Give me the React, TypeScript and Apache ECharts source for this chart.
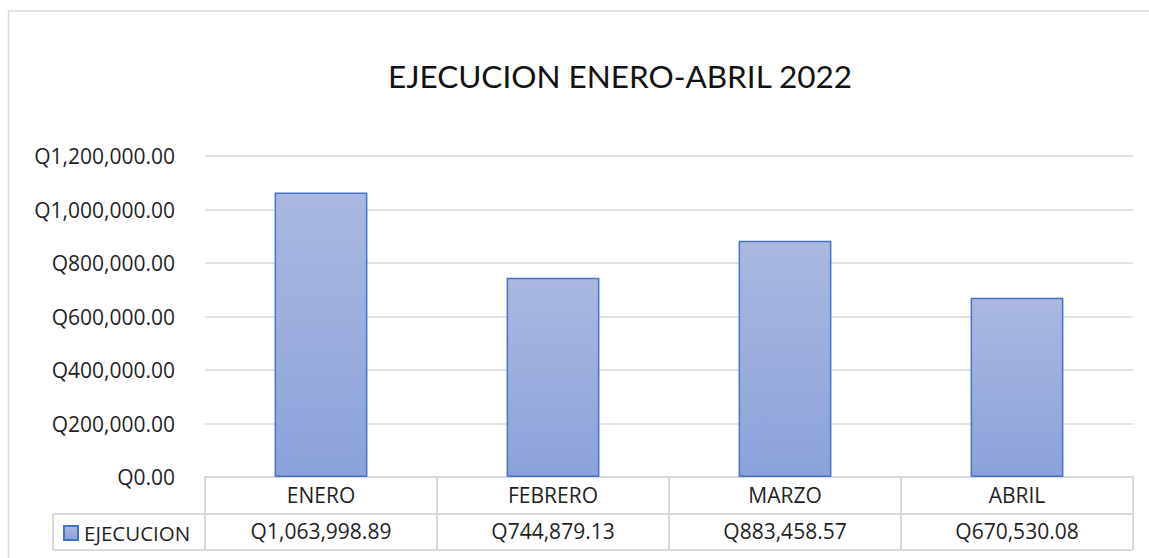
import React, { useEffect, useRef } from "react";
import * as echarts from "echarts";

const categories = ["ENERO", "FEBRERO", "MARZO", "ABRIL"];
const seriesName = "EJECUCION";
const values = [1063998.89, 744879.13, 883458.57, 670530.08];
const yMin = 0;
const yMax = 1200000;
const yInterval = 200000;
const titleText = "EJECUCION ENERO-ABRIL 2022";

const TITLE_FONT = "Lato, 'Open Sans', sans-serif";
const FONT = "'Open Sans', Lato, sans-serif";
const LINE = "#d9d9d9";
const TEXT = "#1f1f1f";
const FS = 21;

const fmtQ = (v: number) =>
  "Q" + v.toLocaleString("en-US", { minimumFractionDigits: 2, maximumFractionDigits: 2 });

export default function App() {
  const ref = useRef<HTMLDivElement>(null);
  useEffect(() => {
    if (!ref.current) return;
    const chart = echarts.init(ref.current, null, { renderer: "svg" });
    const W = 1149;
    const H = 558;
    const gridLeft = 205;
    const gridRight = 1133;
    const gridTop = 156;
    const gridBottom = 477;
    const row1 = 514;
    const row2 = 550;
    const legendLeft = 53;
    chart.setOption({
      animation: false,
      backgroundColor: "#ffffff",
      textStyle: { fontFamily: FONT },
      grid: {
        left: gridLeft,
        right: W - gridRight,
        top: gridTop,
        bottom: H - gridBottom,
        containLabel: false,
      },
      legend: {
        data: [seriesName],
        left: 63,
        top: 520,
        padding: 0,
        icon: "rect",
        itemWidth: 14,
        itemHeight: 14,
        itemGap: 6,
        textStyle: {
          fontSize: 20.5,
          color: TEXT,
          fontFamily: FONT,
          lineHeight: 26,
          padding: [0, 0, 0, 1],
        },
      },
      xAxis: [
        {
          type: "category",
          data: categories,
          axisLine: { show: true, lineStyle: { color: LINE, width: 2 } },
          axisTick: {
            show: true,
            interval: 0,
            length: row2 - gridBottom,
            lineStyle: { color: LINE, width: 2 },
          },
          axisLabel: { margin: 7, fontSize: FS, color: TEXT, fontFamily: FONT },
        },
        {
          type: "category",
          data: categories,
          position: "bottom",
          offset: row1 - gridBottom,
          axisLine: { show: false },
          axisTick: { show: false },
          axisLabel: {
            margin: 6,
            fontSize: FS,
            color: TEXT,
            fontFamily: FONT,
            formatter: (_v: string, i: number) => fmtQ(values[i]),
          },
        },
      ],
      yAxis: {
        type: "value",
        min: yMin,
        max: yMax,
        interval: yInterval,
        axisLine: { show: false },
        axisTick: { show: false },
        axisLabel: {
          margin: 30,
          fontSize: FS,
          color: TEXT,
          fontFamily: FONT,
          formatter: (v: number) => fmtQ(v),
        },
        splitLine: { lineStyle: { color: LINE, width: 1.5 } },
      },
      series: [
        {
          name: seriesName,
          type: "bar",
          data: values,
          barWidth: "40%",
          itemStyle: {
            color: new echarts.graphic.LinearGradient(0, 0, 0, 1, [
              { offset: 0, color: "#aab8e1" },
              { offset: 1, color: "#8ba2da" },
            ]),
            borderColor: "#4472c4",
            borderWidth: 1.5,
          },
        },
      ],
      graphic: [
        {
          type: "rect",
          silent: true,
          shape: { x: 8.5, y: 11, width: 1300, height: 700 },
          style: { fill: "none", stroke: LINE, lineWidth: 1.5 },
        },
        {
          type: "text",
          silent: true,
          style: {
            x: 620,
            y: 76,
            text: titleText,
            align: "center",
            verticalAlign: "middle",
            font: `31.5px ${TITLE_FONT}`,
            fill: "#111111",
          },
        },
        {
          type: "line",
          silent: true,
          shape: { x1: legendLeft, y1: row1, x2: gridRight, y2: row1 },
          style: { stroke: LINE, lineWidth: 2 },
        },
        {
          type: "line",
          silent: true,
          shape: { x1: legendLeft, y1: row2, x2: gridRight, y2: row2 },
          style: { stroke: LINE, lineWidth: 2 },
        },
        {
          type: "line",
          silent: true,
          shape: { x1: legendLeft, y1: row1, x2: legendLeft, y2: row2 },
          style: { stroke: LINE, lineWidth: 2 },
        },
      ],
    });
    return () => chart.dispose();
  }, []);
  return (
    <div
      ref={ref}
      style={{ position: "absolute", left: 0, top: 0, width: 1149, height: 558 }}
    />
  );
}
